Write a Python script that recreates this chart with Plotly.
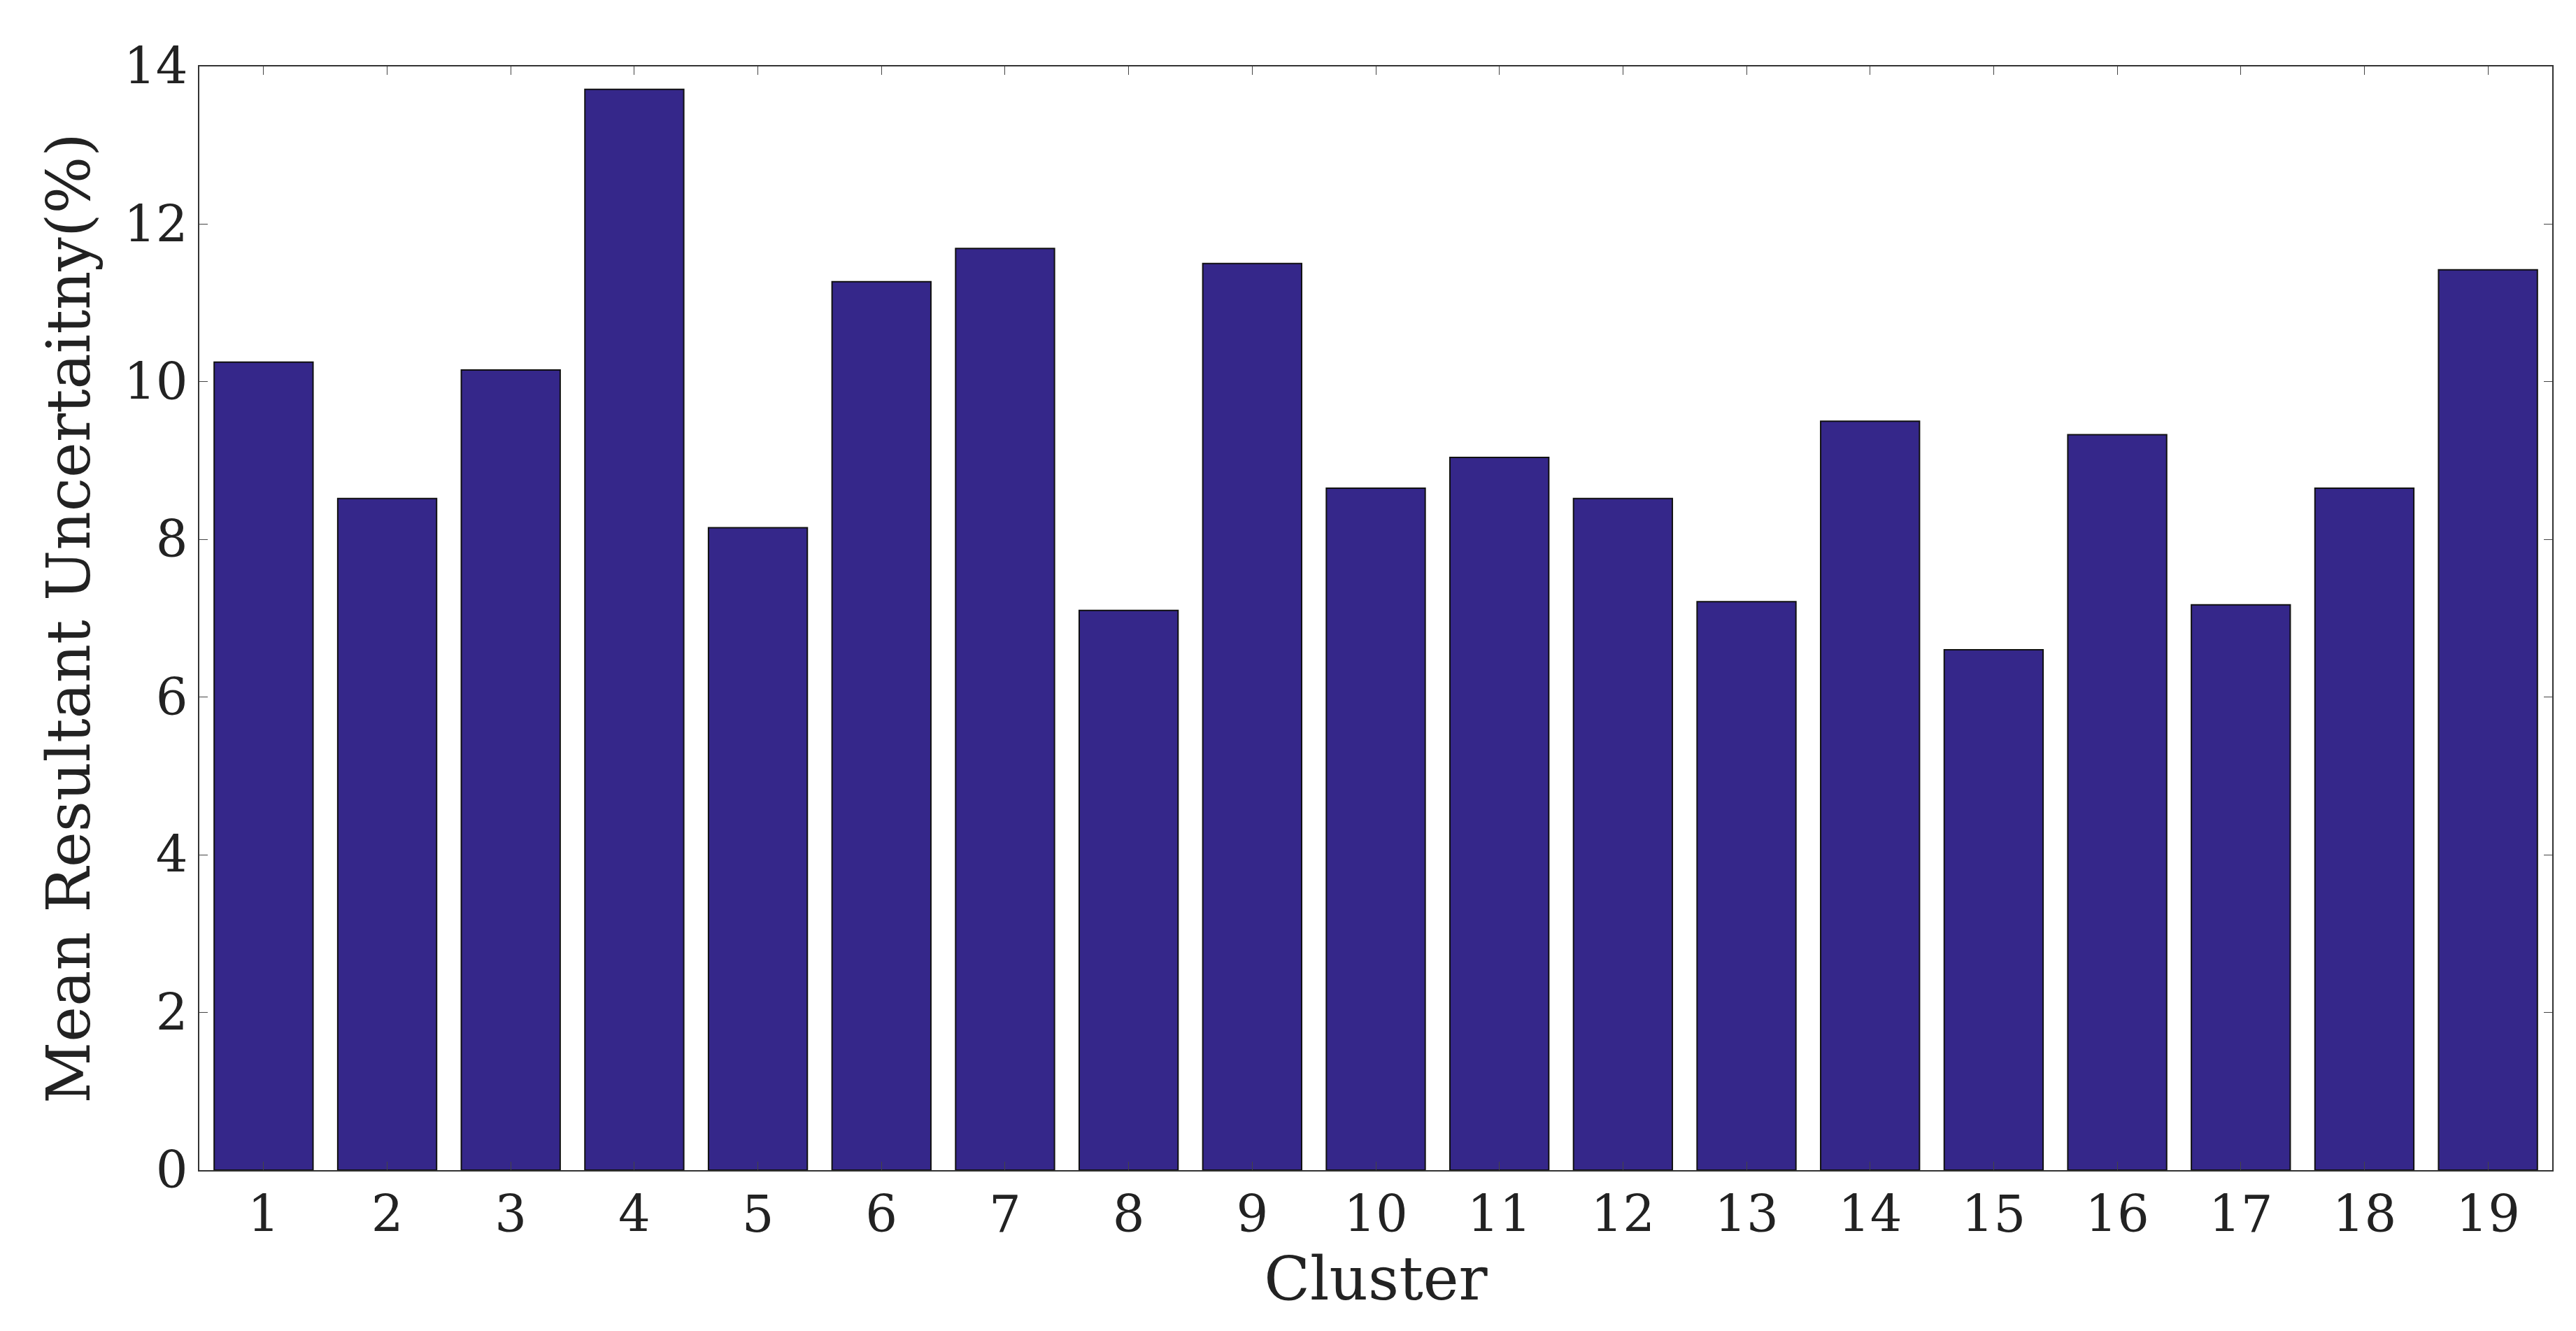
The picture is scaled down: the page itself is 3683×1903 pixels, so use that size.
import plotly.graph_objects as go

clusters = list(range(1, 20))
values = [10.25, 8.52, 10.15, 13.71, 8.15, 11.27, 11.69, 7.10, 11.5, 8.65,
          9.04, 8.52, 7.21, 9.5, 6.6, 9.33, 7.17, 8.65, 11.42]

fig = go.Figure(go.Bar(x=clusters, y=values, width=0.8,
                       marker=dict(color="#35278A", line=dict(color="#111111", width=2))))
font = dict(family="DejaVu Serif", size=72, color="#222222")
fig.update_layout(
    width=3683, height=1903, plot_bgcolor="white", paper_bgcolor="white",
    margin=dict(l=277, r=42, t=87, b=238), font=font, showlegend=False,
    xaxis=dict(range=[0.48, 19.52], tickvals=clusters, ticks="inside", ticklen=12,
               mirror="ticks", showline=True, linecolor="#333333", linewidth=2,
               showgrid=False, title=dict(text="Cluster", standoff=10), tickfont=font),
    yaxis=dict(range=[0, 14], dtick=2, ticks="inside", ticklen=12,
               mirror="ticks", showline=True, linecolor="#333333", linewidth=2,
               showgrid=False, zeroline=False,
               title=dict(text="Mean Resultant Uncertaitny(%)", standoff=20), tickfont=font),
)
fig.write_html("out.html")
